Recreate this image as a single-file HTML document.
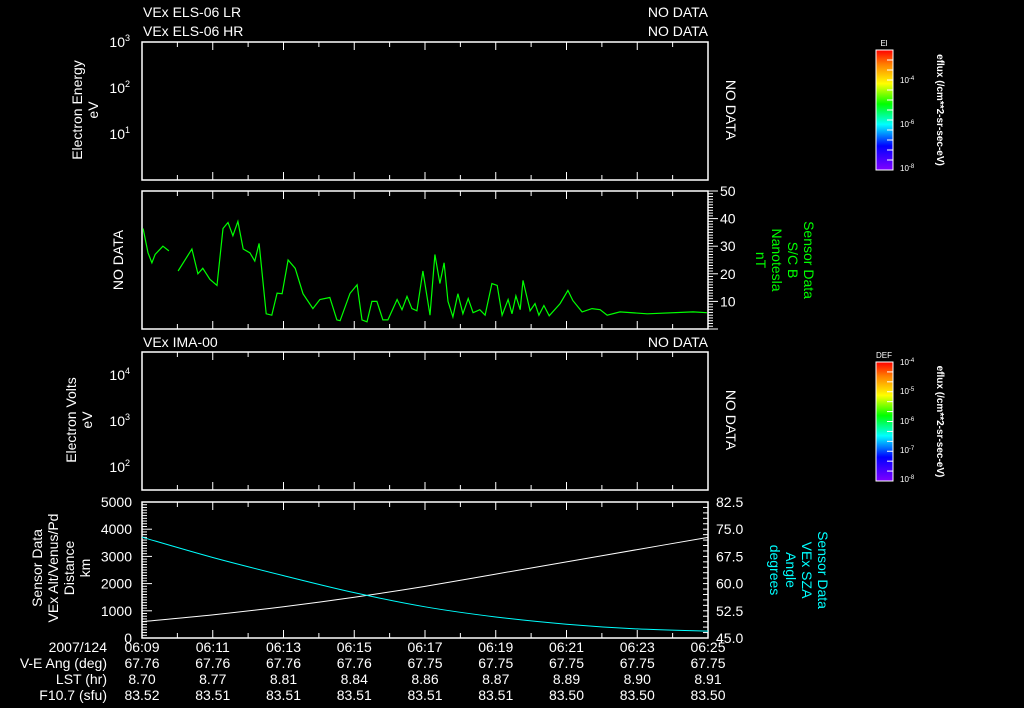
<!DOCTYPE html>
<html><head><meta charset="utf-8"><style>
html,body{margin:0;padding:0;background:#000;}
svg{display:block;font-family:"Liberation Sans",sans-serif;}
text{fill:#fff;font-size:14px;}
</style></head><body>
<svg id="chart" width="1024" height="708" viewBox="0 0 1024 708">
<defs>
<linearGradient id="rb" x1="0" y1="1" x2="0" y2="0">
<stop offset="0" stop-color="#8000ff"/><stop offset="0.2" stop-color="#0000ff"/>
<stop offset="0.38" stop-color="#00ffff"/><stop offset="0.55" stop-color="#00ff00"/>
<stop offset="0.72" stop-color="#ffff00"/><stop offset="0.88" stop-color="#ff8000"/>
<stop offset="1" stop-color="#ff0000"/></linearGradient>
</defs>
<g id="static"></g>
<g id="marks"></g>
</svg>
<script>
// ---- data ----
const bTimes = [0.03,0.17,0.28,0.37,0.59,0.76,null,1.02,1.41,1.58,1.72,1.92,2.12,2.29,2.43,2.57,2.71,2.86,3.05,3.19,3.31,3.51,3.67,3.82,3.96,4.13,4.33,4.55,4.83,5.03,5.31,5.51,5.6,5.88,6.08,6.22,6.36,6.5,6.64,6.81,6.95,7.21,7.35,7.49,7.63,7.77,7.94,8.14,8.28,8.42,8.54,8.65,8.79,8.93,9.07,9.22,9.36,9.55,9.7,9.89,10.04,10.18,10.35,10.46,10.57,10.69,10.77,10.97,11.11,11.22,11.36,11.51,11.82,12.04,12.18,12.44,12.72,12.95,13.15,13.51,14.28,15.58,15.97];
const bValues = [36.4,27.6,24,27,30,28.3,null,21,29,20,22,18,15.8,36.4,38.6,33.8,39,29,27.6,24.6,31,5.5,5,13,12.8,25,22,12.8,7.4,10.7,11.4,3.3,3,12.9,16,3.3,2.6,10,10,3.3,3.3,10.7,7,11.8,7.4,6.6,21,5,27,16.5,24,10,4.4,12.8,5.5,11,5.9,7,5,16.5,15.8,5,10.7,5.5,12,7,17.6,6.6,9.2,5,8.5,4.8,9.2,14,10.3,6.2,7.4,7,5,6.2,5.5,6.2,5.9];
const posTimes = [0,2,4,6,8,10,12,14,16];
const altValues = [600,850,1150,1500,1900,2350,2800,3250,3700];
const szaValues = [72.8,67.2,62.2,57.5,53.6,50.8,48.8,47.5,46.9];
const timeLabels = ["06:09","06:11","06:13","06:15","06:17","06:19","06:21","06:23","06:25"];
const veAng = ["67.76","67.76","67.76","67.76","67.75","67.75","67.75","67.75","67.75"];
const lstHr = ["8.70","8.77","8.81","8.84","8.86","8.87","8.89","8.90","8.91"];
const f107 = ["83.52","83.51","83.51","83.51","83.51","83.51","83.50","83.50","83.50"];
const bTicks = [10,20,30,40,50];
const altTicks = [0,1000,2000,3000,4000,5000];
const szaTicks = ["45.0","52.5","60.0","67.5","75.0","82.5"];

// ---- axes ----
const X0=142, X1=708, T=16;
const xs = t => X0 + t/T*(X1-X0);
const P1={t:42,b:180}, P2={t:191,b:329}, P3={t:352,b:490}, P4={t:502,b:638};
const yB = v => P2.b - v/50*(P2.b-P2.t);
const yAlt = v => P4.b - v/5000*(P4.b-P4.t);
const ySza = v => P4.b - (v-45)/37.5*(P4.b-P4.t);

const NS="http://www.w3.org/2000/svg";
const st=document.getElementById('static'), mk=document.getElementById('marks');
function el(tag,attrs,parent,txt){const e=document.createElementNS(NS,tag);for(const k in attrs)e.setAttribute(k,attrs[k]);if(txt!==undefined)e.textContent=txt;parent.appendChild(e);return e;}

[[P1,'energy-panel-frame'],[P2,'bfield-panel-frame'],[P3,'ion-panel-frame'],[P4,'position-panel-frame']].forEach(([p,n])=>{
 const r=el('rect',{x:X0,y:p.t,width:X1-X0,height:p.b-p.t,fill:'none',stroke:'#fff','stroke-width':1.5},st);
 
 
 for(let i=0;i<=16;i++){const x=xs(i);const len=(i%2==0)?8:5;
  el('line',{x1:x,y1:p.b,x2:x,y2:p.b-len,stroke:'#fff'},st);
  el('line',{x1:x,y1:p.t,x2:x,y2:p.t+len,stroke:'#fff'},st);}
});
for(let v=0;v<=50;v+=1){const y=yB(v);const l=(v%10==0)?10:5;el('line',{x1:X1,y1:y,x2:X1+l,y2:y,stroke:'#fff'},st);}
for(let v=0;v<=5000;v+=100){const y=yAlt(v);const l=(v%1000==0)?10:5;el('line',{x1:X0,y1:y,x2:X0+l,y2:y,stroke:'#fff'},st);}
for(let v=45;v<=82.5;v+=1.5){const y=ySza(v);el('line',{x1:X1,y1:y,x2:X1-5,y2:y,stroke:'#fff'},st);}

function txt(x,y,s,anchor,name,extra){const t=el('text',Object.assign({x:x,y:y,'text-anchor':anchor||'start'},extra||{}),st,s);return t;}

txt(143,17,'VEx ELS-06 LR','start','els-lr-title');
txt(708,17,'NO DATA','end','els-lr-nodata');
txt(143,36,'VEx ELS-06 HR','start','els-hr-title');
txt(708,36,'NO DATA','end','els-hr-nodata');
txt(143,347,'VEx IMA-00','start','ima-title');
txt(708,347,'NO DATA','end','ima-nodata');

function logLbl(x,y,e,n){const t=txt(x,y,'10','end',n);el('tspan',{dy:-6,'font-size':9},t,e);}
logLbl(130,47,'3','energy-tick-1e3');logLbl(130,93,'2','energy-tick-1e2');logLbl(130,139,'1','energy-tick-1e1');
logLbl(130,380,'4','ion-tick-1e4');logLbl(130,426,'3','ion-tick-1e3');logLbl(130,472,'2','ion-tick-1e2');

function rot(x,y,lines,name,color,ang){const g=el('g',{transform:`translate(${x},${y}) rotate(${ang||-90})`},st);
 lines.forEach((s,i)=>{el('text',{x:0,y:i*16,'text-anchor':'middle',style:'fill:'+(color||'#fff')},g,s);});}
rot(82,110,['Electron Energy','eV'],'energy-y-title');
rot(726,110,['NO DATA'],'energy-nodata','#fff',90);
rot(123,260,['NO DATA'],'bfield-nodata-left');
rot(726,420,['NO DATA'],'ion-nodata','#fff',90);
rot(76,420,['Electron Volts','eV'],'ion-y-title');
rot(42,568,['Sensor Data','VEx Alt/Venus/Pd','Distance','km'],'alt-y-title');
['Sensor Data','S/C B','Nanotesla','nT'].forEach((s,i)=>{const t=el('text',{transform:`translate(${804-i*16},260) rotate(90)`,'text-anchor':'middle',style:'fill:#00ff00'},st,s);});
['Sensor Data','VEx SZA','Angle','degrees'].forEach((s,i)=>{const t=el('text',{transform:`translate(${818-i*16},570) rotate(90)`,'text-anchor':'middle',style:'fill:#00ffff'},st,s);});

bTicks.forEach(v=>txt(720,yB(v)+5,String(v),'start','bfield-tick-'+v));
altTicks.forEach(v=>txt(132,yAlt(v)+5,String(v),'end','alt-tick-'+v));
szaTicks.forEach(v=>txt(716,ySza(+v)+5,v,'start','sza-tick-'+v));

txt(107,652,'2007/124','end','date-label');
txt(107,668,'V-E Ang (deg)','end','ve-ang-label');
txt(107,684,'LST (hr)','end','lst-label');
txt(107,700,'F10.7 (sfu)','end','f107-label');
timeLabels.forEach((s,i)=>{const x=xs(i*2);
 txt(x,652,s,'middle','time-tick-'+s);
 txt(x,668,veAng[i],'middle','ve-ang-value');
 txt(x,684,lstHr[i],'middle','lst-value');
 txt(x,700,f107[i],'middle','f107-value');});

function cbar(y0,y1,label,ticks,name){
 const r=el('rect',{x:876,y:y0,width:17,height:y1-y0,fill:'url(#rb)',stroke:'#fff','stroke-width':1},st);
 
 txt(884,y0-4,label,'middle',name+'-label',{style:'font-size:8px'});
 ticks.forEach(([y,e])=>{const t=txt(900,y+3,'10','start',name+'-tick',{style:'font-size:8px'});el('tspan',{dy:-3,'font-size':6},t,e);});
 for(let i=1;i<12;i++){const y=y0+i*(y1-y0)/12;el('line',{x1:887,y1:y,x2:893,y2:y,stroke:'#fff'},st);}
 const t=el('text',{transform:`translate(937,${(y0+y1)/2}) rotate(90)`,'text-anchor':'middle',style:'font-size:10px;font-weight:bold'},st,'eflux (/cm**2-sr-sec-eV)');
 
}
cbar(50,170,'El',[[80,'-4'],[124,'-6'],[168,'-8']],'els-colorbar');
cbar(362,481,'DEF',[[362,'-4'],[391,'-5'],[421,'-6'],[450,'-7'],[479,'-8']],'ima-colorbar');

// ---- series ----
let d='';let pen=false;
bTimes.forEach((t,i)=>{if(t===null||bValues[i]===null){pen=false;return;}d+=(pen?'L':'M')+xs(t).toFixed(1)+','+yB(bValues[i]).toFixed(1);pen=true;});
const bl=el('path',{d:d,fill:'none',stroke:'#00ff00','stroke-width':1.2},mk);



function smooth(pts){let s='M'+pts[0][0]+','+pts[0][1];
 for(let i=0;i<pts.length-1;i++){const p0=pts[i-1]||pts[i],p1=pts[i],p2=pts[i+1],p3=pts[i+2]||p2;
  const c1=[p1[0]+(p2[0]-p0[0])/6,p1[1]+(p2[1]-p0[1])/6],c2=[p2[0]-(p3[0]-p1[0])/6,p2[1]-(p3[1]-p1[1])/6];
  s+=`C${c1[0]},${c1[1]} ${c2[0]},${c2[1]} ${p2[0]},${p2[1]}`;}return s;}
const alt=el('path',{d:smooth(posTimes.map((t,i)=>[xs(t),yAlt(altValues[i])])),fill:'none',stroke:'#fff','stroke-width':1},mk);


const sza=el('path',{d:smooth(posTimes.map((t,i)=>[xs(t),ySza(szaValues[i])])),fill:'none',stroke:'#00ffff','stroke-width':1},mk);


</script>
</body></html>
